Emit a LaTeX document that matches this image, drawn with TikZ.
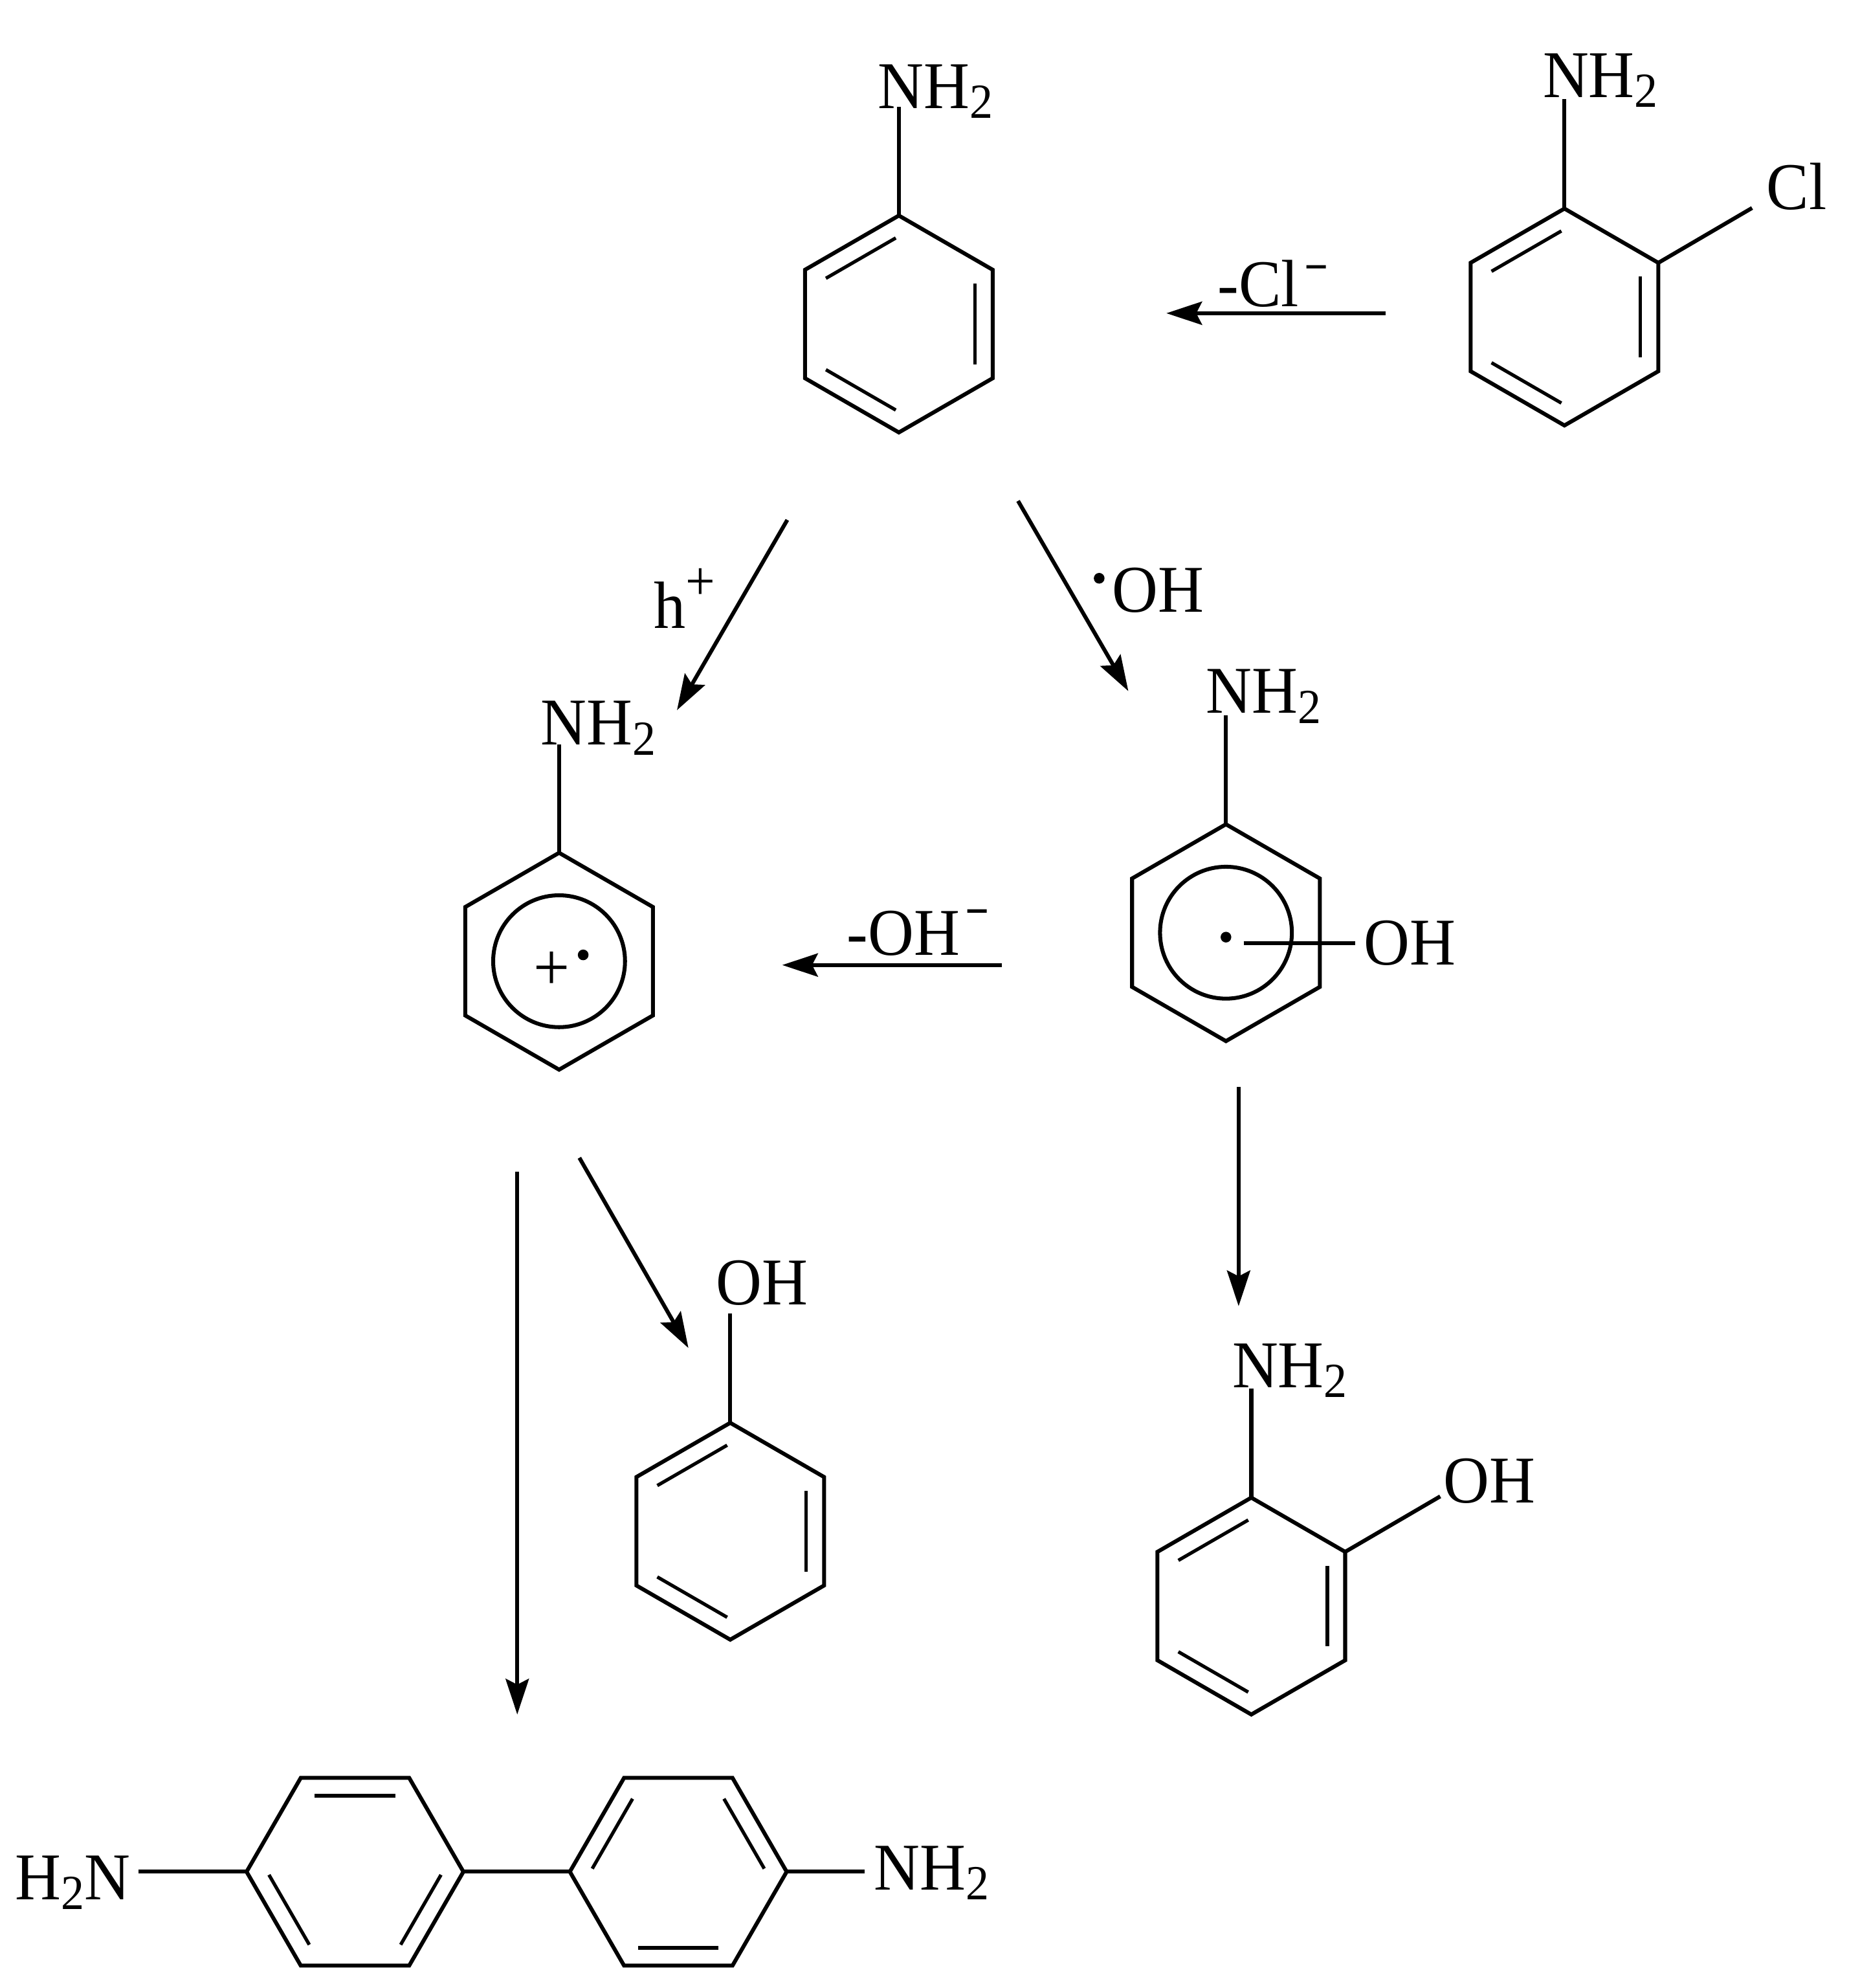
\documentclass[tikz,border=0pt]{standalone}
\usepackage{fontspec}
\setmainfont[FakeStretch=0.95]{Liberation Serif}
\usetikzlibrary{calc,arrows.meta}
\newcommand\dn[1]{\raisebox{-11pt}{\fontsize{55}{55}\selectfont #1}}
\newcommand\minusup[2]{\hspace{#1}\raisebox{#2}{\fontsize{46}{46}\selectfont\addfontfeature{FakeBold=3}−}}
\newcommand\ringmol[4]{% name, cx, cy, start angle
  \coordinate (#1c) at (#2,#3);
  \foreach \i in {1,...,6}{\coordinate (#1\i) at ($(#1c)+({#4+60*(\i-1)}:85.5)$);}
  \draw[bond,line join=miter] (#11)--(#12)--(#13)--(#14)--(#15)--(#16)--cycle;}
\newcommand\dbl[3]{\draw[inner] ($(#1#2)!.19!(#1c)$)--($(#1#3)!.19!(#1c)$);}
\tikzset{
  bond/.style={line width=4.4pt,black},
  inner/.style={line width=3.8pt,black,shorten >=4pt,shorten <=4pt},
  rxn/.style={line width=4.4pt,black,-{Stealth[length=40pt,width=26pt,inset=6.5pt]}},
  chem/.style={inner sep=0pt,outer sep=0pt,anchor=base west,font=\fontsize{75}{80}\selectfont},
  radical/.style={circle,fill=black,inner sep=0pt,minimum size=12pt},
}
\begin{document}
\begin{tikzpicture}[x=0.05cm,y=-0.05cm]
\useasboundingbox (0,0) rectangle (1458,1567.7);
% aniline
\ringmol{a}{709}{255.5}{-90}
\dbl{a}{6}{1}\dbl{a}{2}{3}\dbl{a}{4}{5}
\node[chem] (aN) at (692.5,85.5) {NH\dn{2}};
\coordinate (aE) at (709,84);
\draw[bond] (a1)--(aE);
% 2-chloroaniline
\ringmol{f}{1234}{250}{-90}
\dbl{f}{6}{1}\dbl{f}{2}{3}\dbl{f}{4}{5}
\node[chem] (fN) at (1217,77) {NH\dn{2}};
\node[chem] (fCl) at (1393.5,165) {Cl};
\coordinate (fE) at (1234,78);
\coordinate (fF) at (1382,164);
\draw[bond] (f1)--(fE);
\draw[bond] (f2)--(fF);
% radical cation
\ringmol{b}{441}{758}{-90}
\draw[bond] (bc) circle (52);
\node[chem] (bN) at (426.5,587.5) {NH\dn{2}};
\coordinate (bE) at (441,587);
\draw[bond] (b1)--(bE);
\node[inner sep=0pt,font=\fontsize{76}{76}\selectfont] (bplus) at (435,765.5) {+};
\node[radical] (bdot) at (460,753) {};
% hydroxyl radical adduct
\ringmol{c}{967}{735.5}{-90}
\draw[bond] (cc) circle (52);
\node[chem] (cN) at (951.5,562.5) {NH\dn{2}};
\node[chem] (cO) at (1076,761) {OH};
\coordinate (cE) at (967,564);
\draw[bond] (c1)--(cE);
\node[radical] (cdot) at (967,739) {};
\coordinate (cP) at (981,744);
\coordinate (cQ) at (1069,744);
\draw[bond] (cP)--(cQ);
% phenol
\ringmol{d}{576}{1207.5}{-90}
\dbl{d}{6}{1}\dbl{d}{2}{3}\dbl{d}{4}{5}
\node[chem] (dO) at (565,1029) {OH};
\coordinate (dE) at (576,1036);
\draw[bond] (d1)--(dE);
% aminophenol
\ringmol{e}{987}{1266.5}{-90}
\dbl{e}{6}{1}\dbl{e}{2}{3}\dbl{e}{4}{5}
\node[chem] (eN) at (972,1094) {NH\dn{2}};
\node[chem] (eO) at (1138.5,1185) {OH};
\coordinate (eE) at (987,1095);
\coordinate (eF) at (1136,1180);
\draw[bond] (e1)--(eE);
\draw[bond] (e2)--(eF);
% benzidine
\ringmol{g}{280}{1476}{-120}
\ringmol{h}{535}{1476}{-120}
\dbl{g}{1}{2}\dbl{g}{3}{4}\dbl{g}{5}{6}
\dbl{h}{4}{5}\dbl{h}{2}{3}\dbl{h}{6}{1}
\node[chem] (gN) at (12,1498) {H\dn{2}N};
\node[chem] (hN) at (689.5,1490.5) {NH\dn{2}};
\coordinate (gE) at (109,1476);
\coordinate (hE) at (682,1476);
\draw[bond] (gE)--(g6);
\draw[bond] (g3)--(h6);
\draw[bond] (h3)--(hE);
% reaction arrows
\coordinate (r1s) at (1093,247); \coordinate (r1e) at (920,247);
\coordinate (r2s) at (621,410);  \coordinate (r2e) at (534,560);
\coordinate (r3s) at (803,395);  \coordinate (r3e) at (890,545);
\coordinate (r4s) at (790,761);  \coordinate (r4e) at (617,761);
\coordinate (r5s) at (977,857);  \coordinate (r5e) at (977,1030);
\coordinate (r6s) at (457,913);  \coordinate (r6e) at (543,1063);
\coordinate (r7s) at (408,924);  \coordinate (r7e) at (408,1352);
\foreach \k in {1,...,7}{\draw[rxn] (r\k s)--(r\k e);}
\node[chem] (l1) at (960.5,241.5) {-Cl\minusup{7pt}{29pt}};
\node[chem] (l2) at (516,495.5) {h\raisebox{32pt}{\fontsize{62}{62}\selectfont +}};
\node[radical] (l3d) at (867,456) {};
\node[chem] (l3) at (877.5,482.5) {OH};
\node[chem] (l4) at (668,753) {-OH\minusup{7pt}{34pt}};
\end{tikzpicture}
\end{document}
